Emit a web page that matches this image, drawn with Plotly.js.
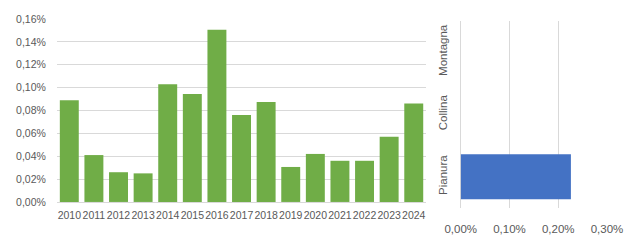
<!DOCTYPE html>
<html><head><meta charset="utf-8">
<script src="https://cdn.plot.ly/plotly-3.0.1.min.js"></script>
<style>html,body{margin:0;padding:0;background:#fff}#c{width:630px;height:240px}</style>
</head><body><div id="c"></div>
<script>
var years = ['2010','2011','2012','2013','2014','2015','2016','2017','2018','2019','2020','2021','2022','2023','2024'];
var yearValues = [0.089,0.041,0.026,0.025,0.103,0.0945,0.1505,0.076,0.0875,0.0306,0.042,0.036,0.036,0.057,0.086];
var zones = ['Pianura','Collina','Montagna'];
var zoneValues = [0.226,0,0];
var leftTicks = [0,0.02,0.04,0.06,0.08,0.10,0.12,0.14,0.16];
var rightTicks = [0,0.10,0.20,0.30];

function pct(v){ return v.toFixed(2).replace('.', ',') + '%'; }

var font = 'Liberation Sans, Arial, sans-serif';
var grey = '#595959';
var grid = '#d9d9d9';

var traces = [
  {type:'bar', x:years, y:yearValues, marker:{color:'#70AD47'}, xaxis:'x', yaxis:'y', hoverinfo:'none'},
  {type:'bar', orientation:'h', y:zones, x:zoneValues, marker:{color:'#4472C4'}, xaxis:'x2', yaxis:'y2', width:0.72, hoverinfo:'none'}
];

var layout = {
  width:630, height:240,
  margin:{l:57, r:23, t:19, b:32},
  paper_bgcolor:'#fff', plot_bgcolor:'#fff',
  showlegend:false,
  bargap:0.23,
  font:{family:font, color:grey, size:10.5},
  xaxis:{domain:[0,0.671], type:'category', showgrid:false, zeroline:false, tickangle:0,
    showline:true, linecolor:grid, linewidth:1, tickfont:{size:10.5, color:grey},
    ticks:'outside', ticklen:3, tickcolor:'rgba(0,0,0,0)'},
  yaxis:{domain:[0.032,1], range:[0,0.16], tickmode:'array', tickvals:leftTicks, ticktext:leftTicks.map(pct),
    showgrid:true, gridcolor:grid, zeroline:false, showline:false,
    ticks:'outside', ticklen:8, tickcolor:'rgba(0,0,0,0)', tickfont:{size:10.5, color:grey}},
  xaxis2:{domain:[0.734,1], anchor:'y2', range:[0,0.30], tickmode:'array', tickvals:rightTicks, ticktext:rightTicks.map(pct),
    showgrid:true, gridcolor:grid, zeroline:true, zerolinecolor:grid, showline:false, tickangle:0,
    ticks:'outside', ticklen:10, tickcolor:'rgba(0,0,0,0)', tickfont:{size:11.5, color:grey}},
  yaxis2:{domain:[0,0.99], anchor:'x2', type:'category', showgrid:false, zeroline:false, showline:false,
    tickangle:-90, ticks:'outside', ticklen:8, tickcolor:'rgba(0,0,0,0)', tickfont:{size:11.5, color:grey}}
};

Plotly.newPlot('c', traces, layout, {staticPlot:true, displayModeBar:false});
</script></body></html>
